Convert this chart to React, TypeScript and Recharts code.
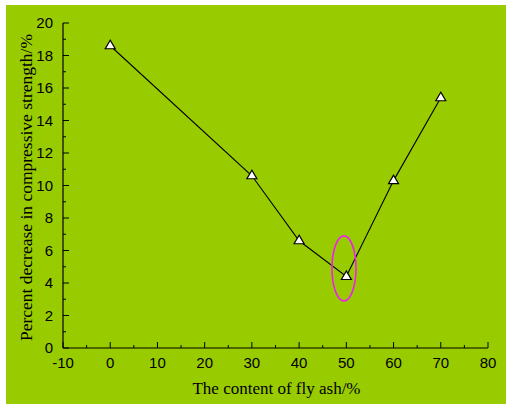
import React from 'react';
import { LineChart, Line, XAxis, YAxis, ReferenceDot, Label } from 'recharts';

const flyAshContent = [0, 30, 40, 50, 60, 70];
const percentDecrease = [18.6, 10.6, 6.6, 4.4, 10.3, 15.4];

const xTicks = [-10, -5, 0, 5, 10, 15, 20, 25, 30, 35, 40, 45, 50, 55, 60, 65, 70, 75, 80];
const xMajorTicks = [-10, 0, 10, 20, 30, 40, 50, 60, 70, 80];
const yTicks = [0, 1, 2, 3, 4, 5, 6, 7, 8, 9, 10, 11, 12, 13, 14, 15, 16, 17, 18, 19, 20];
const yMajorTicks = [0, 2, 4, 6, 8, 10, 12, 14, 16, 18, 20];

const highlightX = 49.5;
const highlightY = 4.9;

const xTitle = 'The content of fly ash/%';
const yTitle = 'Percent decrease in compressive strength/%';

const data = flyAshContent.map((x, i) => ({ x, y: percentDecrease[i] }));

const SANS = '"Liberation Sans", Arial, sans-serif';
const SERIF = '"Liberation Serif", "Times New Roman", serif';

const XTick = (props: any) => {
  const { x, y, payload } = props;
  const major = xMajorTicks.includes(payload.value);
  return (
    <g>
      <line x1={x} x2={x} y1={y} y2={y - (major ? 6 : 3)} stroke="#000" strokeWidth={1} />
      {major && (
        <text x={x} y={y + 19.5} textAnchor="middle" fontSize={15} fontFamily={SANS} fill="#000">
          {payload.value}
        </text>
      )}
    </g>
  );
};

const YTick = (props: any) => {
  const { x, y, payload } = props;
  const major = yMajorTicks.includes(payload.value);
  return (
    <g>
      <line x1={x} x2={x + (major ? 6 : 3)} y1={y} y2={y} stroke="#000" strokeWidth={1} />
      {major && (
        <text x={x - 10} y={y + 5.3} textAnchor="end" fontSize={15} fontFamily={SANS} fill="#000">
          {payload.value}
        </text>
      )}
    </g>
  );
};

const TriangleDot = (props: any) => {
  const { cx, cy } = props;
  if (cx == null || cy == null) return null;
  const pts = `${cx},${cy - 5.5} ${cx - 5},${cy + 3} ${cx + 5},${cy + 3}`;
  return <polygon points={pts} fill="#fff" stroke="#000" strokeWidth={1.2} />;
};

const EllipseShape = (props: any) => {
  const { cx, cy } = props;
  return <ellipse cx={cx} cy={cy} rx={12} ry={32.5} fill="none" stroke="#F020F0" strokeWidth={1.6} />;
};

export default function App() {
  return (
    <div style={{ position: 'absolute', left: 6, top: 5, width: 500, height: 399, background: '#99CC00' }}>
      <LineChart width={500} height={399} data={data} margin={{ top: 18, right: 18, bottom: 0, left: 0 }}>
        <XAxis
          dataKey="x"
          type="number"
          domain={[-10, 80]}
          ticks={xTicks}
          interval={0}
          tickSize={0}
          tickMargin={0}
          tickLine={false}
          tick={<XTick />}
          axisLine={{ stroke: '#000', strokeWidth: 1.2 }}
          height={56}
        >
          <Label
            content={(p: any) => {
              const vb = p.viewBox;
              return (
                <text x={vb.x + vb.width / 2 + 1} y={vb.y + 46} textAnchor="middle" fontSize={17} fontFamily={SERIF} fill="#000">
                  {xTitle}
                </text>
              );
            }}
          />
        </XAxis>
        <YAxis
          type="number"
          domain={[0, 20]}
          ticks={yTicks}
          interval={0}
          tickSize={0}
          tickMargin={0}
          tickLine={false}
          tick={<YTick />}
          axisLine={{ stroke: '#000', strokeWidth: 1.2 }}
          width={57}
        >
          <Label
            content={(p: any) => {
              const vb = p.viewBox;
              const cx = 20;
              const cy = vb.y + vb.height / 2 + 2;
              return (
                <text x={cx} y={cy} transform={`rotate(-90 ${cx} ${cy})`} textAnchor="middle" dominantBaseline="central" fontSize={17.5} fontFamily={SERIF} fill="#000">
                  {yTitle}
                </text>
              );
            }}
          />
        </YAxis>
        <Line
          dataKey="y"
          stroke="#000"
          strokeWidth={1.1}
          isAnimationActive={false}
          dot={<TriangleDot />}
          activeDot={false}
        />
        <ReferenceDot x={highlightX} y={highlightY} shape={<EllipseShape />} ifOverflow="visible" />
      </LineChart>
    </div>
  );
}
